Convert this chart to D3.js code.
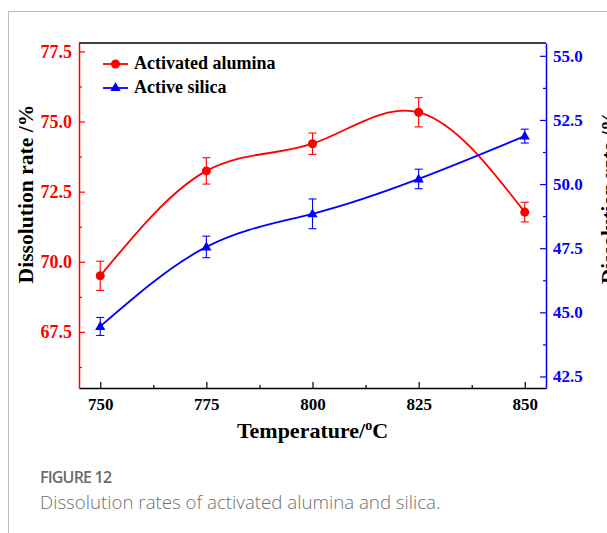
<!DOCTYPE html>
<html>
<head>
<meta charset="utf-8">
<script src="https://cdn.jsdelivr.net/npm/d3@7"></script>
<style>
  html, body { margin: 0; padding: 0; background: #fff; }
  svg { display: block; }
</style>
</head>
<body>
<script>
// Calcination temperatures (°C)
const temperatures = [750, 775, 800, 825, 850];
// Dissolution rate of activated alumina (%), left axis
const aluminaRate = [69.5, 73.24, 74.21, 75.33, 71.77];
const aluminaErr = [0.52, 0.47, 0.38, 0.52, 0.35];
// Dissolution rate of active silica (%), right axis
const silicaRate = [44.45, 47.55, 48.84, 50.2, 51.87];
const silicaErr = [0.35, 0.42, 0.58, 0.38, 0.27];
// Tick labels
const xTicks = [750, 775, 800, 825, 850];
const leftTicks = [67.5, 70.0, 72.5, 75.0, 77.5];
const rightTicks = [42.5, 45.0, 47.5, 50.0, 52.5, 55.0];
const seriesNames = ["Activated alumina", "Active silica"];

const W = 607, H = 533;
const RED = "#ff0000", BLUE = "#0000ff";
const serif = "'Liberation Serif', 'Times New Roman', serif";
const sans = "'Open Sans', 'Noto Sans', sans-serif";

const svg = d3.select("body").append("svg").attr("width", W).attr("height", H);

// page frame lines
svg.append("line").attr("x1", 8).attr("x2", W).attr("y1", 11.5).attr("y2", 11.5)
  .attr("stroke", "#bdbdbd").attr("stroke-width", 1);
svg.append("line").attr("x1", 8.5).attr("x2", 8.5).attr("y1", 11.5).attr("y2", H)
  .attr("stroke", "#bdbdbd").attr("stroke-width", 1);

const L = 79, R = 546, T = 43, B = 388;
const x = d3.scaleLinear().domain([745, 855]).range([L, R]);
const yL = d3.scaleLinear().domain([65.5, 77.8]).range([B, T]);
const yR = d3.scaleLinear().domain([42.05, 55.5]).range([B, T]);

// frame top
svg.append("line").attr("x1", L).attr("x2", R).attr("y1", T).attr("y2", T)
  .attr("stroke", "#000").attr("stroke-width", 1.5);

// x axis (ticks pointing inward)
const xAxis = svg.append("g").attr("transform", `translate(0,${B})`)
  .call(d3.axisBottom(x).tickValues(xTicks).tickSizeInner(-6).tickSizeOuter(0).tickPadding(10).tickFormat(d3.format("d")));
const xMinor = svg.append("g").attr("transform", `translate(0,${B})`)
  .call(d3.axisBottom(x).tickValues(d3.range(762.5, 855, 25)).tickSizeInner(-3).tickSizeOuter(0).tickFormat(""));
xMinor.select(".domain").remove();
[xAxis, xMinor].forEach(g => g.selectAll("line").attr("stroke-width", 1.2));
xAxis.select(".domain").attr("stroke-width", 1.5);
xAxis.selectAll("text").attr("font-family", serif).attr("font-weight", "bold")
  .attr("font-size", 17).attr("fill", "#000").attr("dy", "0.71em");

// left axis (red)
const leftAxis = svg.append("g").attr("transform", `translate(${L},0)`)
  .call(d3.axisLeft(yL).tickValues(leftTicks).tickSizeInner(-6).tickSizeOuter(0).tickPadding(7).tickFormat(d3.format(".1f")));
const leftMinor = svg.append("g").attr("transform", `translate(${L},0)`)
  .call(d3.axisLeft(yL).tickValues(d3.range(66.25, 77.8, 2.5)).tickSizeInner(-3).tickSizeOuter(0).tickFormat(""));
leftMinor.select(".domain").remove();
[leftAxis, leftMinor].forEach(g => g.selectAll("line, path").attr("stroke", RED).attr("stroke-width", 1.2));
leftAxis.select(".domain").attr("stroke-width", 1.5);
leftAxis.selectAll("text").attr("font-family", serif).attr("font-weight", "bold")
  .attr("font-size", 18).attr("fill", RED);

// right axis (blue)
const rightAxis = svg.append("g").attr("transform", `translate(${R},0)`)
  .call(d3.axisRight(yR).tickValues(rightTicks).tickSizeInner(-6).tickSizeOuter(0).tickPadding(7).tickFormat(d3.format(".1f")));
const rightMinor = svg.append("g").attr("transform", `translate(${R},0)`)
  .call(d3.axisRight(yR).tickValues(d3.range(43.75, 55.5, 2.5)).tickSizeInner(-3).tickSizeOuter(0).tickFormat(""));
rightMinor.select(".domain").remove();
[rightAxis, rightMinor].forEach(g => g.selectAll("line, path").attr("stroke", BLUE).attr("stroke-width", 1.2));
rightAxis.select(".domain").attr("stroke-width", 1.5);
rightAxis.selectAll("text").attr("font-family", serif).attr("font-weight", "bold")
  .attr("font-size", 17).attr("fill", BLUE);

// axis titles
svg.append("text").attr("x", (L + R) / 2).attr("y", 438)
  .attr("text-anchor", "middle").attr("font-family", serif).attr("font-weight", "bold")
  .attr("font-size", 22).attr("fill", "#000")
  .call(t => {
    t.append("tspan").text("Temperature/");
    t.append("tspan").attr("font-size", 14).attr("dy", -8).text("o");
    t.append("tspan").attr("dy", 8).text("C");
  });
svg.append("text").attr("transform", `translate(33,194) rotate(-90)`)
  .attr("text-anchor", "middle").attr("font-family", serif).attr("font-weight", "bold")
  .attr("font-size", 21.6).attr("fill", "#000").text("Dissolution rate /%");
svg.append("text").attr("transform", `translate(616,197) rotate(-90)`)
  .attr("text-anchor", "middle").attr("font-family", serif).attr("font-weight", "bold")
  .attr("font-size", 21).attr("fill", "#000").text("Dissolution rate /%");

// series
function drawSeries(values, errs, yScale, color, marker) {
  const pts = temperatures.map((t, i) => [x(t), yScale(values[i])]);
  svg.append("path").attr("d", d3.line().curve(d3.curveNatural)(pts))
    .attr("fill", "none").attr("stroke", color).attr("stroke-width", 1.8);
  const g = svg.append("g");
  temperatures.forEach((t, i) => {
    const cx = x(t), yTop = yScale(values[i] + errs[i]), yBot = yScale(values[i] - errs[i]);
    g.append("line").attr("x1", cx).attr("x2", cx).attr("y1", yTop).attr("y2", yBot)
      .attr("stroke", color).attr("stroke-width", 1.1);
    [yTop, yBot].forEach(yy => g.append("line").attr("x1", cx - 4).attr("x2", cx + 4)
      .attr("y1", yy).attr("y2", yy).attr("stroke", color).attr("stroke-width", 1.1));
  });
  temperatures.forEach((t, i) => {
    g.append("path").attr("d", d3.symbol().type(marker).size(marker === d3.symbolCircle ? 64 : 46)())
      .attr("transform", `translate(${x(t)},${yScale(values[i]) + (marker === d3.symbolTriangle ? 0.5 : 0)})`)
      .attr("fill", color);
  });
}
drawSeries(aluminaRate, aluminaErr, yL, RED, d3.symbolCircle);
drawSeries(silicaRate, silicaErr, yR, BLUE, d3.symbolTriangle);

// legend
const legend = svg.append("g");
[[RED, d3.symbolCircle, 64], [BLUE, d3.symbolTriangle, 88]].forEach(([c, m, yy], i) => {
  legend.append("line").attr("x1", 103).attr("x2", 128).attr("y1", yy).attr("y2", yy)
    .attr("stroke", c).attr("stroke-width", 1.8);
  legend.append("path").attr("d", d3.symbol().type(m).size(m === d3.symbolCircle ? 64 : 46)())
    .attr("transform", `translate(115.5,${yy})`).attr("fill", c);
  legend.append("text").attr("x", 134).attr("y", yy + 5)
    .attr("font-family", serif).attr("font-weight", "bold").attr("font-size", 18)
    .attr("fill", "#000").text(seriesNames[i]);
});

// caption
svg.append("text").attr("x", 40).attr("y", 483).attr("font-family", sans)
  .attr("font-weight", 600).attr("font-size", 16).attr("letter-spacing", -0.8)
  .attr("fill", "#6b6b6b").text("FIGURE 12");
svg.append("text").attr("x", 40).attr("y", 509).attr("font-family", sans)
  .attr("font-weight", 300).attr("font-size", 18.7).attr("fill", "#707070")
  .text("Dissolution rates of activated alumina and silica.");
</script>
</body>
</html>
